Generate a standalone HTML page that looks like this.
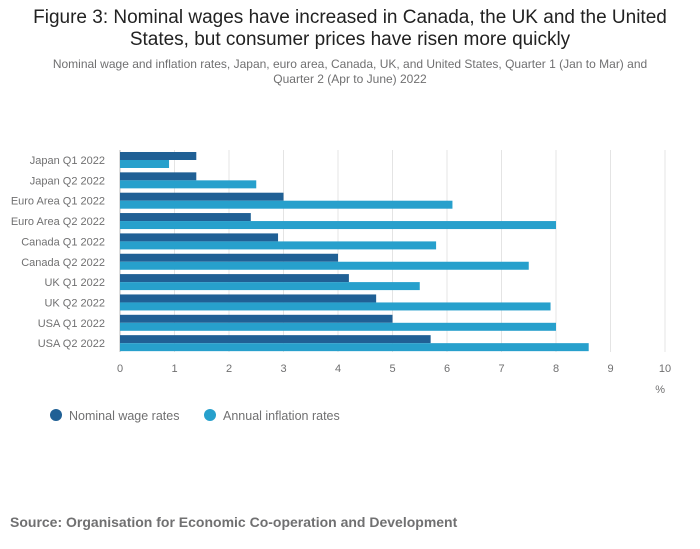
<!DOCTYPE html>
<html><head><meta charset="utf-8">
<style>
body{margin:0;width:700px;height:549px;background:#fff;font-family:"Liberation Sans",sans-serif;overflow:hidden}
#title{position:absolute;left:20px;top:7px;width:660px;text-align:center;font-size:19px;line-height:22px;color:#222}
#sub{position:absolute;left:40px;top:57px;width:620px;text-align:center;font-size:12px;line-height:15px;color:#707071}
#src{position:absolute;left:10px;top:514px;font-size:14px;font-weight:bold;color:#707071}
svg{position:absolute;left:0;top:0}
</style></head><body>
<div id="title">Figure 3: Nominal wages have increased in Canada, the UK and the United States, but consumer prices have risen more quickly</div>
<div id="sub">Nominal wage and inflation rates, Japan, euro area, Canada, UK, and United States, Quarter 1 (Jan to Mar) and Quarter 2 (Apr to June) 2022</div>
<svg id="chart" width="700" height="549"></svg>
<div id="src">Source: Organisation for Economic Co-operation and Development</div>
<script>
const categories=["Japan Q1 2022","Japan Q2 2022","Euro Area Q1 2022","Euro Area Q2 2022","Canada Q1 2022","Canada Q2 2022","UK Q1 2022","UK Q2 2022","USA Q1 2022","USA Q2 2022"];
const nominal=[1.4,1.4,3.0,2.4,2.9,4.0,4.2,4.7,5.0,5.7];
const inflation=[0.9,2.5,6.1,8.0,5.8,7.5,5.5,7.9,8.0,8.6];
const ticks=[0,1,2,3,4,5,6,7,8,9,10];
const svg=document.getElementById('chart');
const NS='http://www.w3.org/2000/svg';
const x=v=>120+v*54.5;
const y0=150.5, band=20.35;
function mk(t,a){const e=document.createElementNS(NS,t);for(const k in a)e.setAttribute(k,a[k]);svg.appendChild(e);return e;}
ticks.forEach(t=>{
 const g=mk('line',{x1:x(t),x2:x(t),y1:150,y2:352,stroke:t===0?'#bbb':'#e4e4e4','stroke-width':1});
 
 
 const l=mk('text',{x:x(t),y:372,'text-anchor':'middle','font-size':11,fill:'#707071'});
 l.textContent=t;
 
 
});
const u=mk('text',{x:665,y:393,'text-anchor':'end','font-size':11,fill:'#707071'});u.textContent='%';


categories.forEach((c,i)=>{
 const top=y0+i*band+1.5;
 const l=mk('text',{x:105,y:top+12,'text-anchor':'end','font-size':11,fill:'#707071'});
 l.textContent=c;
 
 
 const b1=mk('rect',{x:x(0),y:top,width:x(nominal[i])-x(0),height:8,fill:'#206095'});
 
 
 const b2=mk('rect',{x:x(0),y:top+8,width:x(inflation[i])-x(0),height:8,fill:'#27a0cc'});
 
 
});
[["Nominal wage rates","#206095",56],["Annual inflation rates","#27a0cc",210]].forEach(([t,c,lx])=>{
 const d=mk('circle',{cx:lx,cy:415,r:6,fill:c});
 
 
 const tx=mk('text',{x:lx+13,y:420,'font-size':12.5,fill:'#707071'});tx.textContent=t;
 
 
});
</script>
</body></html>
